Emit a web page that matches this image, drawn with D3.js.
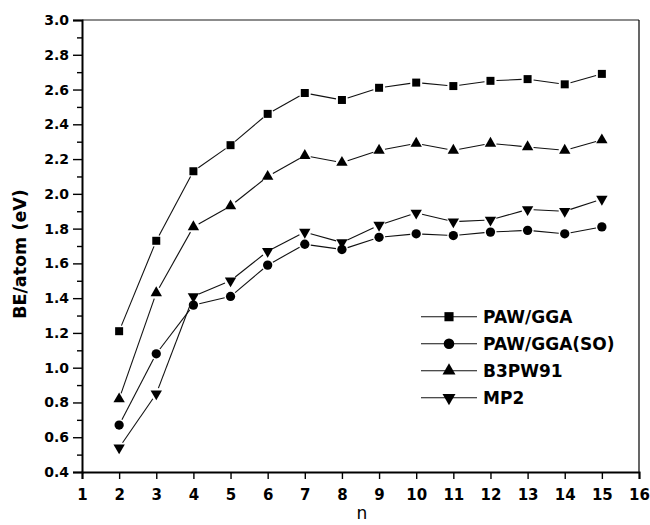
<!DOCTYPE html>
<html>
<head>
<meta charset="utf-8">
<script src="https://cdn.jsdelivr.net/npm/d3@7"></script>
<style>
  body { margin: 0; background: #fff; }
  svg { display: block; }
</style>
</head>
<body>
<script>
// data
var nValues = [2, 3, 4, 5, 6, 7, 8, 9, 10, 11, 12, 13, 14, 15];
var pawGga = [1.21, 1.73, 2.13, 2.28, 2.46, 2.58, 2.54, 2.61, 2.64, 2.62, 2.65, 2.66, 2.63, 2.69];
var pawGgaSo = [0.67, 1.08, 1.36, 1.41, 1.59, 1.71, 1.68, 1.75, 1.77, 1.76, 1.78, 1.79, 1.77, 1.81];
var b3pw91 = [0.82, 1.43, 1.81, 1.93, 2.10, 2.22, 2.18, 2.25, 2.29, 2.25, 2.29, 2.27, 2.25, 2.31];
var mp2 = [0.54, 0.85, 1.41, 1.50, 1.67, 1.78, 1.72, 1.82, 1.89, 1.84, 1.85, 1.91, 1.90, 1.97];
var seriesNames = ["PAW/GGA", "PAW/GGA(SO)", "B3PW91", "MP2"];
var xTicks = [1, 2, 3, 4, 5, 6, 7, 8, 9, 10, 11, 12, 13, 14, 15, 16];
var yTicks = [0.4, 0.6, 0.8, 1.0, 1.2, 1.4, 1.6, 1.8, 2.0, 2.2, 2.4, 2.6, 2.8, 3.0];
var yMinorTicks = [0.5, 0.7, 0.9, 1.1, 1.3, 1.5, 1.7, 1.9, 2.1, 2.3, 2.5, 2.7, 2.9];

var svgWidth = 650;
var svgHeight = 525;

var chartMargin = { top: 20, right: 11, bottom: 53, left: 82 };
var chartWidth = svgWidth - chartMargin.left - chartMargin.right;
var chartHeight = svgHeight - chartMargin.top - chartMargin.bottom;

var svg = d3.select("body")
  .append("svg")
  .attr("width", svgWidth)
  .attr("height", svgHeight);

var chartGroup = svg.append("g")
  .attr("transform", `translate(${chartMargin.left}, ${chartMargin.top})`);

var xScale = d3.scaleLinear().domain([1, 16]).range([0, chartWidth]);
var yScale = d3.scaleLinear().domain([0.4, 3.0]).range([chartHeight, 0]);

var tickFont = "DejaVu Sans, sans-serif";

// top and right frame
chartGroup.append("line")
  .attr("x1", 0).attr("x2", chartWidth)
  .attr("y1", 0).attr("y2", 0)
  .attr("stroke", "#666").attr("stroke-width", 1.4);
chartGroup.append("line")
  .attr("x1", chartWidth).attr("x2", chartWidth)
  .attr("y1", 0).attr("y2", chartHeight)
  .attr("stroke", "#000").attr("stroke-width", 1.2);

// minor y ticks
chartGroup.append("g")
  .call(d3.axisLeft(yScale).tickValues(yMinorTicks).tickSize(5).tickFormat(""))
  .call(g => g.select(".domain").remove())
  .selectAll("line").attr("stroke-width", 1.4);

// major y axis
var leftAxis = d3.axisLeft(yScale)
  .tickValues(yTicks)
  .tickSize(9)
  .tickPadding(4)
  .tickFormat(d3.format(".1f"));
var yAxisG = chartGroup.append("g").call(leftAxis);
yAxisG.select(".domain").attr("stroke-width", 2);
yAxisG.selectAll(".tick line").attr("stroke-width", 1.4);
yAxisG.selectAll("text")
  .attr("font-family", tickFont)
  .attr("font-weight", "bold")
  .attr("font-size", 14)
  .attr("fill", "#000");

// x axis
var bottomAxis = d3.axisBottom(xScale)
  .tickValues(xTicks)
  .tickSize(7)
  .tickPadding(10)
  .tickFormat(d3.format("d"));
var xAxisG = chartGroup.append("g")
  .attr("transform", `translate(0, ${chartHeight})`)
  .call(bottomAxis);
xAxisG.select(".domain").attr("stroke-width", 2);
xAxisG.selectAll(".tick line").attr("stroke-width", 1.4);
xAxisG.selectAll("text")
  .attr("font-family", tickFont)
  .attr("font-weight", "bold")
  .attr("font-size", 15)
  .attr("fill", "#000");

// axis titles
svg.append("text")
  .attr("transform", "translate(26, 254) rotate(-90)")
  .attr("text-anchor", "middle")
  .attr("font-family", tickFont)
  .attr("font-weight", "bold")
  .attr("font-size", 17.5)
  .text("BE/atom (eV)");

svg.append("text")
  .attr("x", 362)
  .attr("y", 519)
  .attr("text-anchor", "middle")
  .attr("font-family", tickFont)
  .attr("font-size", 17)
  .text("n");

// symbols
var symbolTypes = [
  { type: d3.symbolSquare, size: 64, rotate: 0 },
  { type: d3.symbolCircle, size: 68, rotate: 0 },
  { type: d3.symbolTriangle, size: 56, rotate: 0 },
  { type: d3.symbolTriangle, size: 56, rotate: 180 }
];

var allSeries = [pawGga, pawGgaSo, b3pw91, mp2].map(function(vals, i) {
  return {
    name: seriesNames[i],
    sym: symbolTypes[i],
    points: vals.map(function(v, j) { return { n: nValues[j], be: v }; })
  };
});

// lines stop short of the symbols
var gap = 6;
allSeries.forEach(function(s) {
  var segs = d3.pairs(s.points);
  chartGroup.append("g")
    .selectAll("line")
    .data(segs)
    .enter()
    .append("line")
    .each(function(d) {
      var x1 = xScale(d[0].n), y1 = yScale(d[0].be);
      var x2 = xScale(d[1].n), y2 = yScale(d[1].be);
      var len = Math.hypot(x2 - x1, y2 - y1);
      var ux = (x2 - x1) / len, uy = (y2 - y1) / len;
      d3.select(this)
        .attr("x1", x1 + ux * gap).attr("y1", y1 + uy * gap)
        .attr("x2", x2 - ux * gap).attr("y2", y2 - uy * gap);
    })
    .attr("stroke", "#111")
    .attr("stroke-width", 1.1);

  chartGroup.append("g")
    .selectAll("path")
    .data(s.points)
    .enter()
    .append("path")
    .attr("d", d3.symbol().type(s.sym.type).size(s.sym.size))
    .attr("transform", d => `translate(${xScale(d.n)}, ${yScale(d.be)}) rotate(${s.sym.rotate})`)
    .attr("fill", "#000");
});

// legend
var legend = svg.selectAll(".legend")
  .data(allSeries)
  .enter().append("g")
  .attr("class", "legend")
  .attr("transform", function(d, i) { return "translate(0," + (316.7 + i * 27) + ")"; });

legend.append("line")
  .attr("x1", 421).attr("x2", 477)
  .attr("y1", 0).attr("y2", 0)
  .attr("stroke", "#111")
  .attr("stroke-width", 1.1);

legend.append("path")
  .attr("d", d => d3.symbol().type(d.sym.type).size(d.sym.size * 1.3)())
  .attr("transform", d => `translate(449, 0) rotate(${d.sym.rotate})`)
  .attr("fill", "#000");

legend.append("text")
  .attr("x", 483)
  .attr("y", 0)
  .attr("dy", "0.36em")
  .attr("font-family", tickFont)
  .attr("font-weight", "bold")
  .attr("font-size", 17)
  .text(d => d.name);
</script>
</body>
</html>
